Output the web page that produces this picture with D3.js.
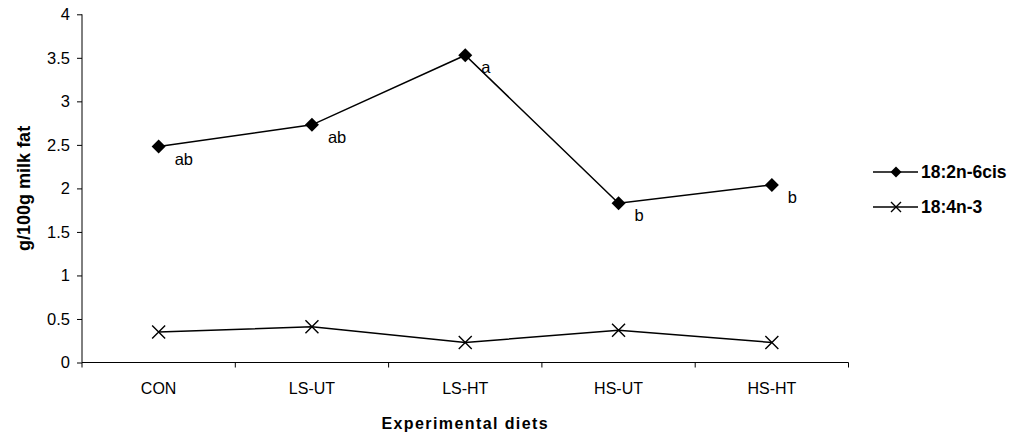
<!DOCTYPE html>
<html>
<head>
<meta charset="utf-8">
<script src="https://cdn.jsdelivr.net/npm/d3@7"></script>
<style>
  html, body { margin: 0; padding: 0; background: #fff; }
  svg { display: block; font-family: "Liberation Sans", Arial, sans-serif; }
</style>
</head>
<body>
<svg id="chart" width="1016" height="438"></svg>
<script>
// Diet groups on the x axis
const diets = ["CON", "LS-UT", "LS-HT", "HS-UT", "HS-HT"];

// Fatty acid content, g/100g milk fat
const linoleic = [2.48, 2.73, 3.53, 1.83, 2.04];      // 18:2n-6cis
const stearidonic = [0.35, 0.41, 0.23, 0.37, 0.23];   // 18:4n-3

// Significance letters for 18:2n-6cis
const letters = ["ab", "ab", "a", "b", "b"];

// Y-axis tick values
const yTicks = [0, 0.5, 1, 1.5, 2, 2.5, 3, 3.5, 4];

const seriesNames = ["18:2n-6cis", "18:4n-3"];

const svg = d3.select("#chart");
const plot = { left: 82, right: 848.5, top: 14.3, bottom: 362.5 };

const x = d3.scaleBand().domain(diets).range([plot.left, plot.right]).padding(0);
const y = d3.scaleLinear().domain([0, 4]).range([plot.bottom, plot.top]);
const cx = d => x(d) + x.bandwidth() / 2;

// Y axis
const yAxis = svg.append("g")
  .attr("transform", `translate(${plot.left},0)`)
  .call(d3.axisLeft(y).tickValues(yTicks).tickFormat(d3.format("")).tickSize(5).tickPadding(7));
yAxis.selectAll("text").attr("font-size", 16.5).attr("fill", "#000")
  .style("font-family", "'Liberation Sans', Arial, sans-serif");
yAxis.selectAll("line, path").attr("stroke", "#000").attr("stroke-width", 1);
yAxis.select(".domain").attr("d", `M0,${plot.top}V${plot.bottom}`);

// X axis: labels at band centres, tick marks at band edges
const xAxis = svg.append("g")
  .attr("transform", `translate(0,${plot.bottom})`)
  .call(d3.axisBottom(x).tickSize(0).tickPadding(20));
xAxis.selectAll("text").attr("font-size", 16).attr("fill", "#000")
  .style("font-family", "'Liberation Sans', Arial, sans-serif");
xAxis.select(".domain").attr("stroke", "#000").attr("d", `M${plot.left},0H${plot.right}`);
const edges = d3.range(diets.length + 1).map(i => plot.left + i * x.step());
xAxis.selectAll("line.edge").data(edges).join("line")
  .attr("class", "edge")
  .attr("x1", d => d).attr("x2", d => d)
  .attr("y1", 0).attr("y2", 5)
  .attr("stroke", "#000");

// Axis titles
svg.append("text")
  .attr("x", (plot.left + plot.right) / 2).attr("y", 429)
  .attr("text-anchor", "middle")
  .attr("font-size", 16).attr("font-weight", "bold")
  .attr("letter-spacing", 1.4)
  .text("Experimental diets");

svg.append("text")
  .attr("transform", `translate(30,${(plot.top + plot.bottom) / 2}) rotate(-90)`)
  .attr("text-anchor", "middle")
  .attr("font-size", 18).attr("font-weight", "bold")
  .text("g/100g milk fat");

// Lines
const line = d3.line().x((d, i) => cx(diets[i])).y(d => y(d));

svg.append("path").datum(linoleic)
  .attr("d", line).attr("fill", "none").attr("stroke", "#000").attr("stroke-width", 1.5);
svg.append("path").datum(stearidonic)
  .attr("d", line).attr("fill", "none").attr("stroke", "#000").attr("stroke-width", 1.5);

// Markers
const diamond = (s) => `M0,${-s}L${s},0L0,${s}L${-s},0Z`;
const cross = (s) => `M${-s},${-s}L${s},${s}M${-s},${s}L${s},${-s}`;

svg.selectAll("path.diamond").data(linoleic).join("path")
  .attr("class", "diamond")
  .attr("transform", (d, i) => `translate(${cx(diets[i])},${y(d)})`)
  .attr("d", diamond(7)).attr("fill", "#000");

svg.selectAll("path.cross").data(stearidonic).join("path")
  .attr("class", "cross")
  .attr("transform", (d, i) => `translate(${cx(diets[i])},${y(d)})`)
  .attr("d", cross(6.5)).attr("fill", "none").attr("stroke", "#000").attr("stroke-width", 1.4);

// Significance letters
svg.selectAll("text.letter").data(linoleic).join("text")
  .attr("class", "letter")
  .attr("x", (d, i) => cx(diets[i]) + 16)
  .attr("y", d => y(d) + 18)
  .attr("font-size", 16.5)
  .text((d, i) => letters[i]);

// Legend
const legend = svg.append("g");
const legendY = [172, 207];
seriesNames.forEach((name, i) => {
  const g = legend.append("g").attr("transform", `translate(0,${legendY[i]})`);
  g.append("line").attr("x1", 873).attr("x2", 918).attr("y1", 0).attr("y2", 0)
    .attr("stroke", "#000").attr("stroke-width", 1.5);
  if (i === 0) {
    g.append("path").attr("transform", "translate(896,0)").attr("d", diamond(5.5)).attr("fill", "#000");
  } else {
    g.append("path").attr("transform", "translate(896,0)").attr("d", cross(5))
      .attr("fill", "none").attr("stroke", "#000").attr("stroke-width", 1.4);
  }
  g.append("text").attr("x", 921).attr("y", 6)
    .attr("font-size", 17.5).attr("font-weight", "bold").text(name);
});
</script>
</body>
</html>
